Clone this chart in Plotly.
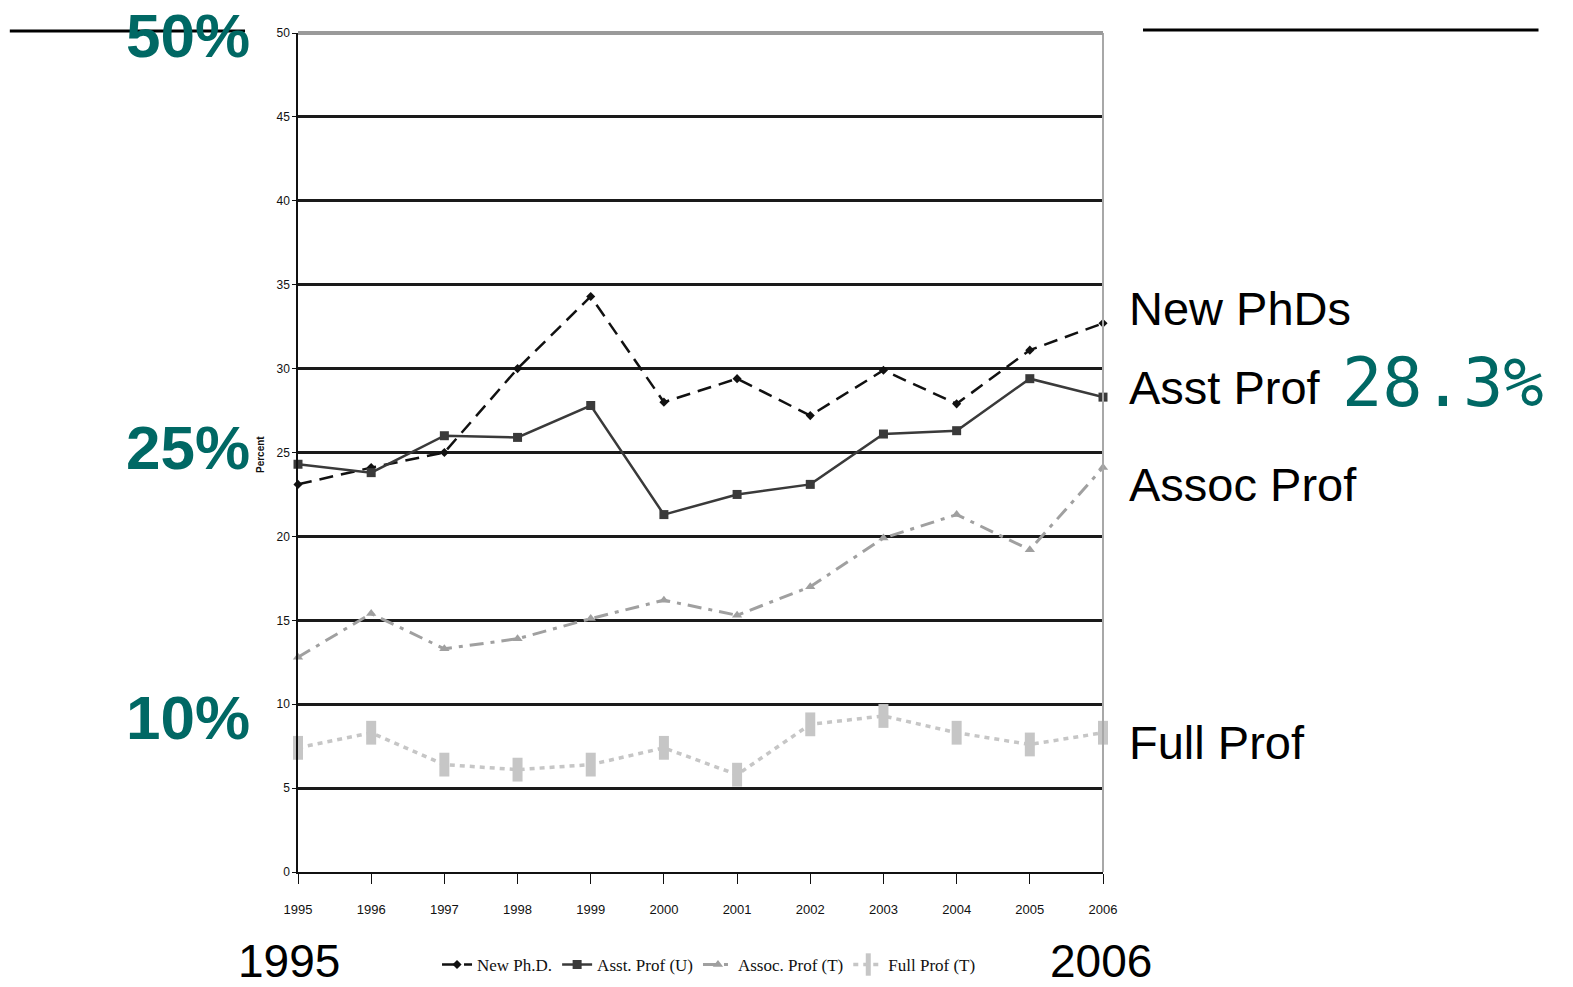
import plotly.graph_objects as go

# Share of women by career stage, 1995-2006 (percent)
years = [1995, 1996, 1997, 1998, 1999, 2000, 2001, 2002, 2003, 2004, 2005, 2006]
new_phd = [23.1, 24.1, 25.0, 30.0, 34.3, 28.0, 29.4, 27.2, 29.9, 27.9, 31.1, 32.7]
asst_prof = [24.3, 23.8, 26.0, 25.9, 27.8, 21.3, 22.5, 23.1, 26.1, 26.3, 29.4, 28.3]
assoc_prof = [12.8, 15.4, 13.3, 13.9, 15.1, 16.2, 15.3, 17.0, 19.9, 21.3, 19.2, 24.1]
full_prof = [7.4, 8.3, 6.4, 6.1, 6.4, 7.4, 5.8, 8.8, 9.3, 8.3, 7.6, 8.3]

y_ticks = [0, 5, 10, 15, 20, 25, 30, 35, 40, 45, 50]
x_ticks = years

TEAL = "#006864"
SANS = "Liberation Sans, Arial, sans-serif"
NARROW = "Liberation Sans Narrow, Arial Narrow, Liberation Sans, sans-serif"

fig = go.Figure()

fig.add_trace(go.Scatter(
    x=years, y=new_phd, name="New Ph.D.", mode="lines+markers",
    line=dict(color="#111111", width=2.5, dash="14px,8px"),
    marker=dict(symbol="diamond", size=7, color="#111111"),
    cliponaxis=False,
))
fig.add_trace(go.Scatter(
    x=years, y=asst_prof, name="Asst. Prof (U)", mode="lines+markers",
    line=dict(color="#3a3a3a", width=2.5),
    marker=dict(symbol="square", size=9, color="#3a3a3a"),
    cliponaxis=False,
))
fig.add_trace(go.Scatter(
    x=years, y=assoc_prof, name="Assoc. Prof (T)", mode="lines+markers",
    line=dict(color="#a0a0a0", width=3, dash="14px,7px,4px,7px"),
    marker=dict(symbol="triangle-up", size=9, color="#a0a0a0"),
    cliponaxis=False,
))
fig.add_trace(go.Scatter(
    x=years, y=full_prof, name="Full Prof (T)", mode="lines+markers",
    line=dict(color="#c6c6c6", width=3.5, dash="5px,5px"),
    marker=dict(symbol="line-ns", size=17, line=dict(color="#c6c6c6", width=10)),
    cliponaxis=False,
))

annotations = [
    dict(text="<b>50%</b>", x=-0.1366, y=0.9976, font=dict(size=62, color=TEAL, family=SANS)),
    dict(text="<b>25%</b>", x=-0.1366, y=0.5054, font=dict(size=62, color=TEAL, family=SANS)),
    dict(text="<b>10%</b>", x=-0.1366, y=0.1836, font=dict(size=62, color=TEAL, family=SANS)),
    dict(text="<b>Percent</b>", x=-0.0472, y=0.497, textangle=-90, font=dict(size=10, color="#111111", family=SANS)),
    dict(text="New PhDs", x=1.0298, y=0.6722, xanchor="left", font=dict(size=47, color="#000000", family=SANS)),
    dict(text="Asst Prof", x=1.0298, y=0.5769, xanchor="left", font=dict(size=47, color="#000000", family=SANS)),
    dict(text="28.3%", x=1.2944, y=0.5828, xanchor="left", font=dict(size=67, color=TEAL, family="DejaVu Sans Mono, monospace")),
    dict(text="Assoc Prof", x=1.0298, y=0.4613, xanchor="left", font=dict(size=47, color="#000000", family=SANS)),
    dict(text="Full Prof", x=1.0298, y=0.1538, xanchor="left", font=dict(size=47, color="#000000", family=SANS)),
    dict(text="1995", x=-0.0112, y=-0.1055, font=dict(size=46, color="#000000", family=SANS), borderpad=0),
    dict(text="2006", x=0.9975, y=-0.1055, font=dict(size=46, color="#000000", family=SANS), borderpad=0),
]
for a in annotations:
    a.update(xref="paper", yref="paper", showarrow=False)
    a.setdefault("xanchor", "center")
    a.setdefault("yanchor", "middle")

shapes = [
    # rules across the top of the slide
    dict(type="line", xref="paper", yref="paper", x0=-0.358, x1=-0.0658, y0=1.0024, y1=1.0024,
         line=dict(color="#000000", width=3)),
    dict(type="line", xref="paper", yref="paper", x0=1.0497, x1=1.5410, y0=1.0036, y1=1.0036,
         line=dict(color="#000000", width=3)),
    # right frame edge and top boundary of the plot
    dict(type="line", xref="paper", yref="paper", x0=1, x1=1, y0=0, y1=1,
         line=dict(color="#a8a8a8", width=2)),
    dict(type="line", xref="paper", yref="paper", x0=0, x1=1, y0=1, y1=1,
         line=dict(color="#9a9a9a", width=4)),
]

fig.update_layout(
    width=1573, height=987,
    margin=dict(l=298, r=470, t=33, b=115, autoexpand=False),
    paper_bgcolor="white", plot_bgcolor="white",
    showlegend=True,
    legend=dict(
        orientation="h", x=0.1727, y=-0.1108, xanchor="left", yanchor="middle",
        font=dict(size=17, color="#111111", family="Liberation Serif, Times New Roman, serif"),
        itemwidth=30, bgcolor="rgba(0,0,0,0)",
    ),
    annotations=annotations,
    shapes=shapes,
    xaxis=dict(
        range=[1995, 2006], tickmode="array", tickvals=x_ticks,
        ticktext=[str(y) for y in x_ticks],
        showgrid=False, zeroline=False,
        showline=True, linecolor="#111111", linewidth=2,
        ticks="outside", ticklen=10, tickcolor="#111111", tickwidth=1,
        ticklabelstandoff=14,
        tickfont=dict(size=13, color="#111111", family=NARROW),
    ),
    yaxis=dict(
        range=[0, 50], tickmode="array", tickvals=y_ticks,
        showgrid=True, gridcolor="#1a1a1a", gridwidth=2.5,
        zeroline=False,
        showline=True, linecolor="#111111", linewidth=1.5,
        ticks="outside", ticklen=4, tickcolor="#111111", tickwidth=1,
        tickfont=dict(size=12, color="#111111", family=NARROW),
    ),
)

fig.write_html("out.html")
